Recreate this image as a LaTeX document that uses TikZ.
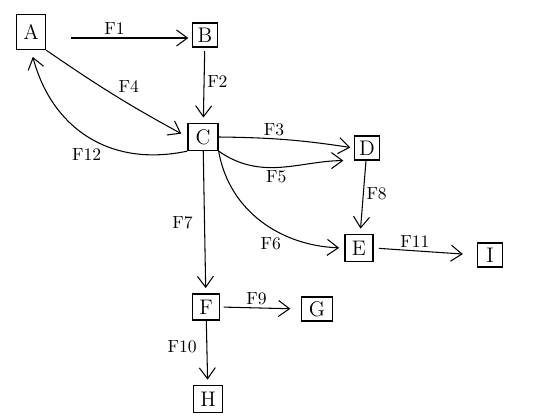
\documentclass[tikz,border=0pt]{standalone}
\usetikzlibrary{arrows.meta}

\begin{document}
\begin{tikzpicture}[x=0.02cm,y=-0.02cm,>={Straight Barb[length=2.2mm,width=3.2mm]},
 box/.style={draw,line width=0.7pt,minimum width=0.5cm,minimum height=0.48cm,inner sep=1pt,font=\large},
 flow/.style={->,line width=0.6pt},
 lbl/.style={font=\normalsize,inner sep=1.5pt}]
\useasboundingbox (0,0) rectangle (540,419);
% stations
\node[box,minimum width=0.58cm,minimum height=0.7cm] (A) at (31,32) {A};
\node[box] (B) at (205,35) {B};
\node[box,minimum width=0.6cm,minimum height=0.54cm] (C) at (203,137) {C};
\node[box] (D) at (367,148) {D};
\node[box,minimum width=0.56cm,minimum height=0.54cm] (E) at (359,248) {E};
\node[box] (I) at (490,255) {I};
\node[box,minimum width=0.54cm,minimum height=0.52cm] (F) at (206,307) {F};
\node[box,minimum width=0.62cm] (G) at (317,309) {G};
\node[box,minimum width=0.58cm,minimum height=0.54cm] (H) at (208,399) {H};
% flows
\draw[flow,shorten <=14pt,shorten >=2pt] (A.east |- 0,38) -- node[lbl,above,pos=0.47] {F1} (B.west |- 0,38);
\draw[flow,shorten <=2pt,shorten >=3pt] (B) -- node[lbl,right,pos=0.45] {F2} (C);
\draw[flow,shorten >=4pt] (A.south east) to[bend right=3] node[lbl,above right,pos=0.5] {F4} (C.west);
\draw[flow,shorten >=4pt] (C.south west) to[out=192,in=-75,looseness=1.1] node[lbl,anchor=north east,pos=0.4] {F12} (A.south);
\draw[flow,shorten >=2pt] (C.east) to[bend left=4] node[lbl,above,pos=0.4] {F3} (D.west);
\draw[flow,shorten >=6pt] (C.south east) to[out=-35,in=180] node[lbl,below,pos=0.45] {F5} (D.south west);
\draw[flow,shorten >=3pt] (C.south east) to[out=-80,in=178] node[lbl,below left,pos=0.65] {F6} (E.west);
\draw[flow,shorten >=3pt] (D) -- node[lbl,right,pos=0.45] {F8} (E);
\draw[flow,shorten >=3pt] (C) -- node[lbl,left=5pt,pos=0.5] {F7} (F);
\draw[flow,shorten <=3pt,shorten >=8pt] (E.east) -- node[lbl,above,pos=0.4] {F11} (I.west);
\draw[flow,shorten <=2pt,shorten >=6pt] (F.east) -- node[lbl,above,pos=0.45] {F9} (G.west);
\draw[flow,shorten >=3pt] (F) -- node[lbl,left=4pt,pos=0.4] {F10} (H);
\end{tikzpicture}
\end{document}
